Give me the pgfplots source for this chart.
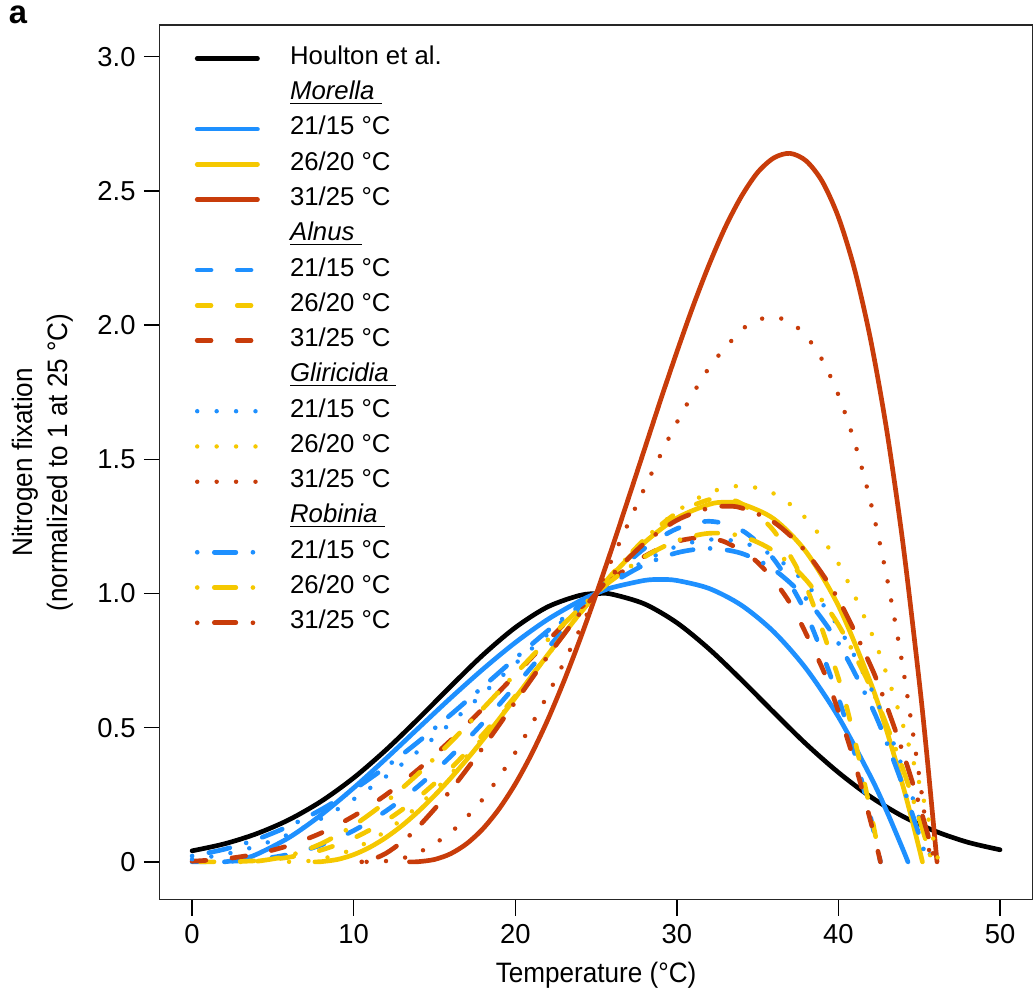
\documentclass[border=0pt]{standalone}
\usepackage{fontspec}
\setmainfont{Liberation Sans}
\newfontfamily\narrowfont[FakeStretch=0.93]{Liberation Sans}
\usepackage{pgfplots}
\pgfplotsset{compat=1.18}
\definecolor{nfblue}{RGB}{30,144,255}
\definecolor{nfgold}{RGB}{245,200,0}
\definecolor{nfred}{RGB}{200,60,10}
\tikzset{
  sol/.style={line width=2pt, line cap=round, line join=round},
  dsh/.style={line width=2pt, line cap=round, dash pattern=on 5.9pt off 11.2pt},
  dtt/.style={line width=1.9pt, line cap=round, dash pattern=on 0pt off 8.3pt},
  dsd/.style={line width=2pt, line cap=round, dash pattern=on 0pt off 7.3pt on 9.2pt off 7.3pt},
}
\begin{document}
\begin{tikzpicture}
\begin{axis}[
  name=ax,
  scale only axis, width=13.106cm, height=13.14cm,
  xmin=-2, xmax=52, ymin=-0.1414, ymax=3.1185,
  xtick={0,10,20,30,40,50}, xticklabels={0,10,20,30,40,50},
  ytick={0,0.5,1,1.5,2,2.5,3}, yticklabels={0,0.5,1.0,1.5,2.0,2.5,3.0},
  tick pos=left, tick align=outside, major tick length=0.24cm,
  tick style={black, line width=0.6pt},
  axis line style={black!85, line width=0.6pt},
  ticklabel style={font=\fontsize{11.7}{14}\selectfont},
  xlabel={Temperature (°C)},
  xlabel style={font=\narrowfont\fontsize{12}{15}\selectfont, at={(axis description cs:0.5,-0.0868)}, anchor=center},
  ylabel={Nitrogen fixation\\(normalized to 1 at 25 °C)},
  ylabel style={align=center, font=\narrowfont\fontsize{12}{15}\selectfont, at={(axis description cs:-0.1345,0.5)}, anchor=center},
  legend cell align=left,
  legend image code/.code={\draw[#1] (0.035cm,0cm) -- (0.94cm,0cm); \path (1.395cm,0cm);},
  legend style={draw=none, fill=none, inner sep=0pt, at={(axis description cs:0.0397,0.9768)}, anchor=north west,
    row sep=4.07pt, font=\fontsize{11}{13}\selectfont, nodes={inner sep=0pt, text height=8pt, text depth=3pt}},
]
% Houlton et al.
\addplot[black, sol, smooth] coordinates {(0,0.041)(2,0.067)(4,0.105)(6,0.157)(8,0.226)(10,0.313)(12,0.417)(14,0.533)(16,0.654)(18,0.771)(20,0.873)(22,0.950)(24,0.993)(25.2,1.0)(26,0.997)(28,0.961)(30,0.891)(32,0.793)(34,0.678)(36,0.557)(38,0.439)(40,0.333)(42,0.242)(44,0.169)(46,0.114)(48,0.073)(50,0.045)};
\addlegendentry{Houlton et al.}
% Morella
\addlegendimage{empty legend}
\addlegendentry{\underline{\textit{Morella}\ }}
\addplot[nfblue, sol, smooth] coordinates {(2,0)(3,0.0085)(4,0.028)(6,0.0905)(8,0.1755)(10,0.2755)(12,0.3847)(14,0.498)(16,0.6105)(18,0.718)(20,0.817)(22,0.903)(24,0.9725)(25,1.0)(26,1.022)(28,1.0487)(29,1.052)(30,1.0484)(32,1.0186)(34,0.956)(36,0.857)(38,0.7198)(40,0.540)(42,0.3165)(43,0.187)(44,0.045)(44.3,0)};
\addlegendentry{21/15 °C}
\addplot[nfgold, sol, smooth] coordinates {(7.6,0)(8,0.0007)(9,0.0089)(10,0.0268)(11,0.0543)(12,0.0907)(13,0.1355)(14,0.1877)(15,0.2467)(16,0.3116)(17,0.3814)(18,0.4552)(19,0.5321)(20,0.611)(22,0.7707)(24,0.9264)(25,1.0)(26,1.069)(28,1.190)(30,1.281)(32,1.332)(33,1.340)(34,1.334)(36,1.278)(38,1.155)(40,0.954)(42,0.666)(43,0.486)(44,0.281)(44.6,0.1455)(45.2,0)};
\addlegendentry{26/20 °C}
\addplot[nfred, sol, smooth] coordinates {(13.45,0)(14,0.0006)(15,0.0088)(16,0.0302)(17,0.0679)(18,0.1234)(19,0.1975)(20,0.290)(21,0.4007)(22,0.528)(23,0.6716)(24,0.828)(25,0.996)(26,1.172)(27,1.354)(28,1.538)(29,1.722)(30,1.900)(31,2.070)(32,2.226)(33,2.365)(34,2.480)(35,2.569)(36,2.623)(37,2.640)(38,2.612)(39,2.535)(40,2.402)(41,2.207)(42,1.943)(43,1.604)(44,1.183)(45,0.6725)(45.5,0.3817)(46.1,0)};
\addlegendentry{31/25 °C}
% Alnus
\addlegendimage{empty legend}
\addlegendentry{\underline{\textit{Alnus}\ }}
\addplot[nfblue, dsh, smooth] coordinates {(0,0)(2,0.0011)(4,0.0087)(6,0.028)(8,0.063)(10,0.1165)(12,0.1896)(14,0.2822)(16,0.393)(18,0.518)(20,0.655)(22,0.7956)(24,0.9343)(25,1.0)(26,1.0618)(28,1.1681)(30,1.2414)(32,1.269)(34,1.2363)(36,1.1276)(38,0.9254)(40,0.6106)(41,0.4048)(42,0.1632)(42.6,0)};
\addlegendentry{21/15 °C}
\addplot[nfgold, dsh, smooth] coordinates {(0.5,0)(2,0.0003)(4,0.0043)(6,0.0172)(8,0.044)(10,0.0886)(12,0.1534)(14,0.240)(16,0.3478)(18,0.475)(20,0.6174)(22,0.7698)(24,0.9246)(25,1.0)(26,1.0727)(28,1.2022)(30,1.2999)(32,1.3498)(33,1.3517)(34,1.3344)(36,1.2336)(38,1.0253)(40,0.6846)(41,0.4565)(42,0.1851)(42.6,0)};
\addlegendentry{26/20 °C}
\addplot[nfred, dsh, smooth] coordinates {(0,0.0023)(2,0.0109)(4,0.0295)(6,0.0611)(8,0.1078)(10,0.1707)(12,0.250)(14,0.3446)(16,0.453)(18,0.5716)(20,0.697)(22,0.8232)(24,0.9441)(25,1.0)(26,1.0522)(28,1.1385)(30,1.1933)(31.5,1.207)(33,1.1915)(35,1.1159)(37,0.9643)(39,0.7215)(40,0.5605)(41,0.3706)(42,0.149)(42.6,0)};
\addlegendentry{31/25 °C}
% Gliricidia
\addlegendimage{empty legend}
\addlegendentry{\underline{\textit{Gliricidia}\ }}
\addplot[nfblue, dtt, smooth] coordinates {(0,0.0096)(2,0.0279)(4,0.0587)(6,0.103)(8,0.1614)(10,0.2333)(12,0.318)(14,0.413)(16,0.5168)(18,0.6264)(20,0.738)(22,0.8479)(24,0.952)(25,1.0)(26,1.0449)(28,1.1211)(30,1.1754)(32,1.2008)(34,1.1911)(36,1.1387)(38,1.0363)(40,0.8754)(42,0.648)(43,0.5066)(44,0.3449)(45,0.1623)(45.8,0)};
\addlegendentry{21/15 °C}
\addplot[nfgold, dtt, smooth] coordinates {(6,0)(7,0.0022)(8,0.0103)(10,0.0478)(12,0.1145)(14,0.2086)(16,0.3264)(18,0.4631)(20,0.6132)(22,0.7692)(24,0.9249)(25,1.0)(26,1.0717)(28,1.2015)(30,1.3058)(32,1.3756)(34,1.401)(36,1.3723)(38,1.2792)(40,1.1117)(42,0.8587)(43,0.6966)(44,0.5091)(45,0.2948)(45.6,0.1527)(46.2,0)};
\addlegendentry{26/20 °C}
\addplot[nfred, dtt, smooth] coordinates {(10.8,0)(12,0.0029)(13,0.0133)(14,0.0336)(16,0.1092)(18,0.2343)(20,0.4072)(22,0.6214)(24,0.8665)(25,0.997)(26,1.1295)(28,1.3928)(30,1.637)(32,1.8415)(34,1.981)(35,2.0188)(36,2.0298)(37,2.0115)(38,1.9594)(39,1.870)(40,1.7395)(41,1.5635)(42,1.3383)(43,1.0586)(44,0.7209)(45,0.3202)(45.4,0.1413)(45.7,0)};
\addlegendentry{31/25 °C}
% Robinia
\addlegendimage{empty legend}
\addlegendentry{\underline{\textit{Robinia}\ }}
\addplot[nfblue, dsd, smooth] coordinates {(0,0.0218)(2,0.0469)(4,0.0837)(6,0.1332)(8,0.1952)(10,0.2691)(12,0.3536)(14,0.4475)(16,0.548)(18,0.6526)(20,0.758)(22,0.8606)(24,0.9561)(25,1.0)(26,1.0399)(28,1.1071)(30,1.1516)(32,1.168)(34,1.1495)(36,1.0894)(38,0.9804)(40,0.8148)(42,0.5845)(43,0.4424)(44,0.281)(45,0.0991)(45.5,0)};
\addlegendentry{21/15 °C}
\addplot[nfgold, dsd, smooth] coordinates {(3,0)(4,0.0021)(6,0.023)(8,0.068)(10,0.1357)(12,0.2238)(14,0.3285)(16,0.4459)(18,0.5712)(20,0.700)(22,0.8264)(24,0.9451)(25,1.0)(26,1.0505)(28,1.1363)(30,1.1963)(32,1.2243)(34,1.2137)(36,1.1579)(38,1.0502)(40,0.8832)(42,0.6505)(43,0.5069)(44,0.3442)(45,0.1614)(45.8,0)};
\addlegendentry{26/20 °C}
\addplot[nfred, dsd, smooth] coordinates {(10.5,0)(11,0.0049)(12,0.0319)(13,0.075)(14,0.1302)(16,0.2669)(18,0.4261)(20,0.5957)(22,0.7654)(24,0.9261)(25,1.0)(26,1.0694)(28,1.1875)(30,1.273)(32,1.3189)(33,1.325)(34,1.3187)(36,1.2659)(38,1.1541)(40,0.9775)(42,0.73)(43,0.5778)(44,0.406)(45,0.2136)(46,0)};
\addlegendentry{31/25 °C}
\end{axis}
\node[font=\bfseries\fontsize{14}{16}\selectfont] at ([xshift=-2.13cm,yshift=0.15cm]ax.north west) {a};
\pgfresetboundingbox
\path[use as bounding box] ([xshift=-2.4cm,yshift=-1.41cm]ax.south west) rectangle ([xshift=0.01cm,yshift=0.375cm]ax.north east);
\end{tikzpicture}
\end{document}
